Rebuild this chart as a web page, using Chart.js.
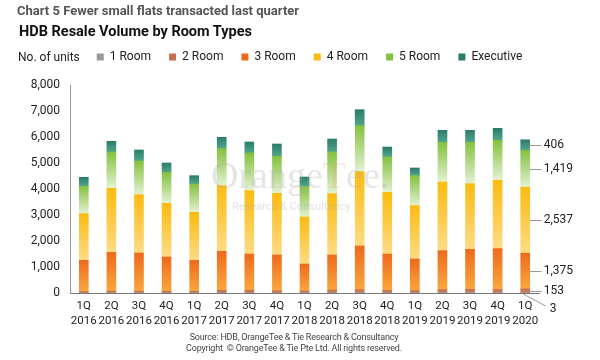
<!DOCTYPE html>
<html>
<head>
<meta charset="utf-8">
<script src="https://cdn.jsdelivr.net/npm/chart.js@4.4.1/dist/chart.umd.min.js"></script>
<style>
  body { margin: 0; background: #fff; font-family: Roboto, "Noto Sans", sans-serif; }
  #wrap { position: relative; width: 600px; height: 360px; overflow: hidden; }
  #chart { position: absolute; left: 0; top: 0; }
  .txt { position: absolute; white-space: nowrap; }
  #kicker { left: 17px; top: 3px; font-size: 13px; font-weight: bold; color: #555; }
  #title { left: 19px; top: 23px; font-size: 14.5px; font-weight: bold; color: #111; }
  #units { left: 18px; top: 50px; font-size: 12px; color: #222; }
  #foot { left: 0; width: 588px; top: 332px; font-size: 9px; color: #444; text-align: center; line-height: 10.5px; letter-spacing: -0.2px; }
</style>
</head>
<body>
<div id="wrap">
  <canvas id="chart" width="600" height="360"></canvas>
  <div class="txt" id="kicker">Chart 5 Fewer small flats transacted last quarter</div>
  <div class="txt" id="title">HDB Resale Volume by Room Types</div>
  <div class="txt" id="units">No. of units</div>
  <div class="txt" id="foot">Source: HDB, OrangeTee &amp; Tie Research &amp; Consultancy<br>Copyright &nbsp;© OrangeTee &amp; Tie Pte Ltd. All rights reserved.</div>
</div>
<script>
// 四半期ラベル
const quarters = [
  ['1Q', '2016'], ['2Q', '2016'], ['3Q', '2016'], ['4Q', '2016'],
  ['1Q', '2017'], ['2Q', '2017'], ['3Q', '2017'], ['4Q', '2017'],
  ['1Q', '2018'], ['2Q', '2018'], ['3Q', '2018'], ['4Q', '2018'],
  ['1Q', '2019'], ['2Q', '2019'], ['3Q', '2019'], ['4Q', '2019'],
  ['1Q', '2020']
];
// 部屋タイプ別の取引件数
const oneRoom   = [3, 5, 4, 4, 5, 6, 4, 5, 6, 9, 10, 7, 6, 11, 12, 8, 3];
const twoRoom   = [55, 70, 65, 60, 60, 100, 105, 85, 75, 105, 120, 95, 85, 120, 130, 125, 153];
const threeRoom = [1198, 1489, 1469, 1321, 1191, 1497, 1391, 1372, 1034, 1348, 1678, 1398, 1217, 1497, 1537, 1572, 1375];
const fourRoom  = [1795, 2462, 2244, 2064, 1847, 2525, 2436, 2371, 1808, 2359, 2859, 2372, 2051, 2641, 2526, 2628, 2537];
const fiveRoom  = [1052, 1397, 1295, 1192, 1089, 1423, 1449, 1423, 1177, 1602, 1769, 1359, 1154, 1526, 1590, 1539, 1419];
const executive = [346, 410, 423, 359, 321, 436, 423, 475, 360, 500, 615, 384, 295, 461, 461, 461, 406];
const yTicks = [0, 1000, 2000, 3000, 4000, 5000, 6000, 7000, 8000];

const FONT = 'Roboto';

// 棒ごとの縦グラデーション（上が濃い）
function barFill(solid, top, bottom) {
  return function (c) {
    if (c.type !== 'data') return solid;
    const chart = c.chart;
    const y = chart.scales.y;
    if (!y || !chart.chartArea) return top;
    let start = 0;
    for (let j = 0; j < c.datasetIndex; j++) start += chart.data.datasets[j].data[c.dataIndex];
    const y0 = y.getPixelForValue(start + c.raw);
    const y1 = y.getPixelForValue(start);
    if (!isFinite(y0) || !isFinite(y1) || y0 === y1) return top;
    const g = chart.ctx.createLinearGradient(0, y0, 0, y1);
    g.addColorStop(0, top);
    g.addColorStop(1, bottom);
    return g;
  };
}

// 凡例の下に余白を足し、少し右へずらす
const legendGap = {
  id: 'legendGap',
  beforeLayout: function (chart) {
    const lg = chart.legend;
    if (lg && !lg._gapPatched) {
      const fit = lg.fit.bind(lg);
      lg.fit = function () { fit(); this.height += 12; };
      lg._gapPatched = true;
    }
  },
  afterLayout: function (chart) {
    const lg = chart.legend;
    if (lg) { lg.left += 30; lg.right += 30; }
  }
};

// 透かし
const watermark = {
  id: 'watermark',
  afterDatasetsDraw: function (chart) {
    const ctx = chart.ctx;
    ctx.save();
    ctx.textBaseline = 'alphabetic';
    ctx.textAlign = 'left';
    ctx.font = '38px "Liberation Serif", "DejaVu Serif", serif';
    ctx.fillStyle = 'rgba(170,170,170,0.3)';
    const x0 = 211, base = 188;
    ctx.fillText('Orange', x0, base);
    const w1 = ctx.measureText('Orange').width;
    ctx.fillStyle = 'rgba(235,150,100,0.22)';
    ctx.fillText('T', x0 + w1, base);
    const w2 = ctx.measureText('T').width;
    ctx.fillStyle = 'rgba(170,170,170,0.3)';
    ctx.fillText('ee.', x0 + w1 + w2, base);
    ctx.font = '11px ' + FONT;
    ctx.fillStyle = 'rgba(170,170,170,0.35)';
    ctx.fillText('Research & Consultancy', 232, 210);
    ctx.restore();
  }
};

// 最新四半期の値ラベル
const lastLabels = {
  id: 'lastLabels',
  afterDatasetsDraw: function (chart) {
    const ctx = chart.ctx;
    const last = quarters.length - 1;
    ctx.save();
    ctx.font = '12px ' + FONT;
    ctx.fillStyle = '#222';
    ctx.strokeStyle = '#999';
    ctx.lineWidth = 1;
    ctx.textAlign = 'left';
    ctx.textBaseline = 'middle';
    chart.data.datasets.forEach(function (ds, i) {
      const el = chart.getDatasetMeta(i).data[last];
      if (!el) return;
      const right = el.x + el.width / 2;
      const mid = (el.y + el.base) / 2;
      const txt = ds.data[last].toLocaleString('en-US');
      ctx.beginPath();
      if (i === 0) {
        ctx.moveTo(el.x - 2, el.base + 1);
        ctx.lineTo(right + 16, el.base + 13);
        ctx.stroke();
        ctx.fillText(txt, right + 20, el.base + 16);
      } else {
        ctx.moveTo(right, Math.round(mid) + 0.5);
        ctx.lineTo(right + 12, Math.round(mid) + 0.5);
        ctx.stroke();
        ctx.fillText(txt, right + 14, mid);
      }
    });
    ctx.restore();
  }
};

const ctx = document.getElementById('chart');

new Chart(ctx, {
  type: 'bar',
  data: {
    labels: quarters,
    datasets: [
      { label: '1 Room', data: oneRoom, backgroundColor: barFill('#ababab', '#9a9a9a', '#b5b5b5') },
      { label: '2 Room', data: twoRoom, backgroundColor: barFill('#d9836a', '#c27050', '#cd8060') },
      { label: '3 Room', data: threeRoom, backgroundColor: barFill('#f39538', '#ee6a1c', '#faa73e') },
      { label: '4 Room', data: fourRoom, backgroundColor: barFill('#f6c343', '#fbbb10', '#fedc86') },
      { label: '5 Room', data: fiveRoom, backgroundColor: barFill('#a9d57c', '#84c140', '#e4f2d3') },
      { label: 'Executive', data: executive, backgroundColor: barFill('#3f917a', '#2b7d6b', '#52a689') }
    ]
  },
  options: {
    responsive: false,
    animation: false,
    layout: { padding: { top: 33, left: 20, right: 61, bottom: 0 } },
    datasets: { bar: { barThickness: 9, borderWidth: 0 } },
    plugins: {
      legend: {
        position: 'top',
        labels: {
          boxWidth: 7,
          boxHeight: 7,
          padding: 18,
          color: '#222',
          font: { family: FONT, size: 12 }
        }
      },
      tooltip: { enabled: false }
    },
    scales: {
      x: {
        stacked: true,
        grid: { display: false, drawTicks: false },
        border: { display: true, color: '#777', width: 1 },
        ticks: {
          autoSkip: false,
          maxRotation: 0,
          padding: 5,
          color: '#222',
          font: { family: FONT, size: 11.5, lineHeight: 1.35 }
        },
        afterFit: function (s) { s.height = 67; }
      },
      y: {
        stacked: true,
        min: yTicks[0],
        max: yTicks[yTicks.length - 1],
        grid: { display: false, drawTicks: false },
        border: { display: true, color: '#999', width: 1 },
        ticks: {
          stepSize: yTicks[1] - yTicks[0],
          padding: 10,
          color: '#222',
          font: { family: FONT, size: 12 },
          callback: function (v) { return v.toLocaleString('en-US'); }
        },
        afterFit: function (s) { s.width = 50; }
      }
    }
  },
  plugins: [legendGap, watermark, lastLabels]
});
</script>
</body>
</html>
